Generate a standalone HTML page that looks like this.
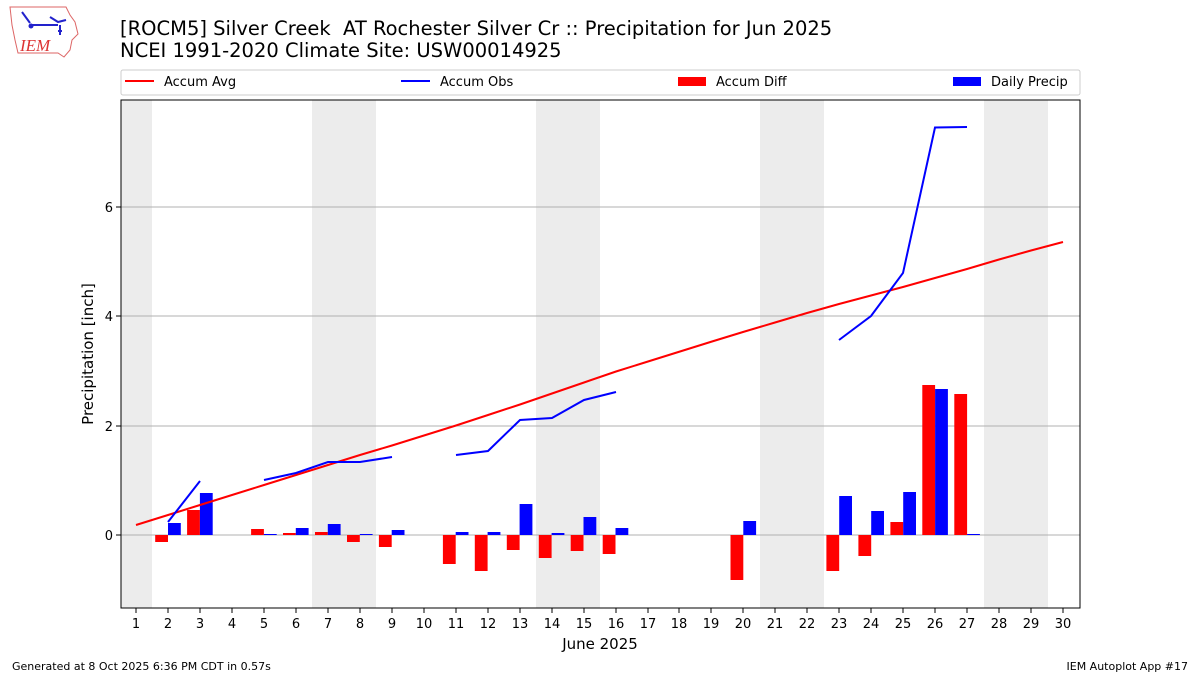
<!DOCTYPE html>
<html><head><meta charset="utf-8"><style>
body{margin:0;background:#fff}
svg{display:block;font-family:"DejaVu Sans","Liberation Sans",sans-serif}
</style></head><body>
<svg width="1200" height="675" viewBox="0 0 1200 675" xmlns="http://www.w3.org/2000/svg">
<rect width="1200" height="675" fill="#fff"/>
<!-- logo -->
<path d="M10 7 L66 7 L70 15 L75 22 L78 34 L72 40 L70 50 L64 57 L58 53 L18 53 L15 40 L12 25 Z" fill="none" stroke="#d66" stroke-width="1"/>
<path d="M22 12 L30 23 M30 25 L58 25 M50 17 L58 22 L66 20 M60 25 L60 35 M58 31 L62 31" stroke="#22c" stroke-width="2" fill="none"/>
<circle cx="31" cy="26" r="2.5" fill="#22c"/>
<text x="20" y="51" font-family="Liberation Serif,serif" font-style="italic" font-size="17" fill="#d33">IEM</text>
<text x="120" y="35" font-size="19.5">[ROCM5] Silver Creek&#160; AT Rochester Silver Cr :: Precipitation for Jun 2025</text>
<text x="120" y="57" font-size="19.5">NCEI 1991-2020 Climate Site: USW00014925</text>
<!-- legend -->
<rect x="121" y="70" width="959" height="25" rx="2" fill="#fff" stroke="#ccc"/>
<line x1="125" y1="81" x2="154" y2="81" stroke="red" stroke-width="2"/>
<text x="164" y="86" font-size="13">Accum Avg</text>
<line x1="401" y1="81" x2="430" y2="81" stroke="blue" stroke-width="2"/>
<text x="440" y="86" font-size="13">Accum Obs</text>
<rect x="678" y="77" width="28" height="9" fill="red"/>
<text x="716" y="86" font-size="13">Accum Diff</text>
<rect x="953" y="77" width="28" height="9" fill="blue"/>
<text x="991" y="86" font-size="13">Daily Precip</text>
<!-- plot area -->
<g fill="#ececec">
<rect x="121" y="100" width="31" height="508"/>
<rect x="312" y="100" width="64" height="508"/>
<rect x="536" y="100" width="64" height="508"/>
<rect x="760" y="100" width="64" height="508"/>
<rect x="984" y="100" width="64" height="508"/>
</g>
<g stroke="#b0b0b0" stroke-width="1">
<line x1="121" y1="535" x2="1080" y2="535"/>
<line x1="121" y1="426" x2="1080" y2="426"/>
<line x1="121" y1="316" x2="1080" y2="316"/>
<line x1="121" y1="207" x2="1080" y2="207"/>
</g>
<g fill="red">
<rect x="155.2" y="535" width="12.8" height="7"/>
<rect x="187.1" y="510" width="12.8" height="25"/>
<rect x="251.1" y="529" width="12.8" height="6"/>
<rect x="283.0" y="533" width="12.8" height="2"/>
<rect x="315.0" y="532" width="12.8" height="3"/>
<rect x="347.0" y="535" width="12.8" height="7"/>
<rect x="378.9" y="535" width="12.8" height="12"/>
<rect x="442.9" y="535" width="12.8" height="29"/>
<rect x="474.8" y="535" width="12.8" height="36"/>
<rect x="506.8" y="535" width="12.8" height="15"/>
<rect x="538.8" y="535" width="12.8" height="23"/>
<rect x="570.7" y="535" width="12.8" height="16"/>
<rect x="602.7" y="535" width="12.8" height="19"/>
<rect x="730.5" y="535" width="12.8" height="45"/>
<rect x="826.4" y="535" width="12.8" height="36"/>
<rect x="858.4" y="535" width="12.8" height="21"/>
<rect x="890.4" y="522" width="12.8" height="13"/>
<rect x="922.3" y="385" width="12.8" height="150"/>
<rect x="954.3" y="394" width="12.8" height="141"/>
</g>
<g fill="blue">
<rect x="168.0" y="523" width="12.8" height="12"/>
<rect x="199.9" y="493" width="12.8" height="42"/>
<rect x="263.9" y="534" width="12.8" height="1"/>
<rect x="295.8" y="528" width="12.8" height="7"/>
<rect x="327.8" y="524" width="12.8" height="11"/>
<rect x="359.8" y="534" width="12.8" height="1"/>
<rect x="391.7" y="530" width="12.8" height="5"/>
<rect x="455.7" y="532" width="12.8" height="3"/>
<rect x="487.6" y="532" width="12.8" height="3"/>
<rect x="519.6" y="504" width="12.8" height="31"/>
<rect x="551.6" y="533" width="12.8" height="2"/>
<rect x="583.5" y="517" width="12.8" height="18"/>
<rect x="615.5" y="528" width="12.8" height="7"/>
<rect x="743.3" y="521" width="12.8" height="14"/>
<rect x="839.2" y="496" width="12.8" height="39"/>
<rect x="871.2" y="511" width="12.8" height="24"/>
<rect x="903.2" y="492" width="12.8" height="43"/>
<rect x="935.1" y="389" width="12.8" height="146"/>
<rect x="967.1" y="534" width="12.8" height="1"/>
</g>
<polyline fill="none" stroke="red" stroke-width="2" points="136,525 168,515 200,505 232,495 264,485 296,475 328,465 360,455 392,445.5 424,435.5 456,425.5 488,415 520,404.5 552,393.5 584,382.5 616,371.5 648,361.5 680,351.5 712,341.5 743,332 775,322.5 807,313 839,304 871,295.5 903,287 935,278 967,269 999,259.5 1031,250.5 1063,242"/>
<g fill="none" stroke="blue" stroke-width="2">
<polyline points="168,522 200,481"/>
<polyline points="264,480 296,473 328,462 360,462 392,457"/>
<polyline points="456,455 488,451 520,420 552,418 584,400 616,392"/>
<polyline points="839,340 871,316 903,273 935,127.5 967,127"/>
</g>
<rect x="121" y="100" width="959" height="508" fill="none" stroke="#000" stroke-width="1"/>
<!-- y ticks -->
<g stroke="#000"><line x1="116" y1="535" x2="121" y2="535"/><line x1="116" y1="426" x2="121" y2="426"/><line x1="116" y1="316" x2="121" y2="316"/><line x1="116" y1="207" x2="121" y2="207"/></g>
<g font-size="13" text-anchor="end">
<text x="113" y="540">0</text><text x="113" y="431">2</text><text x="113" y="321">4</text><text x="113" y="212">6</text>
</g>
<text transform="translate(93,354) rotate(-90)" font-size="15" text-anchor="middle">Precipitation [inch]</text>
<!-- x ticks -->
<g stroke="#000">
<line x1="136" y1="608" x2="136" y2="613"/><line x1="168" y1="608" x2="168" y2="613"/><line x1="200" y1="608" x2="200" y2="613"/><line x1="232" y1="608" x2="232" y2="613"/><line x1="264" y1="608" x2="264" y2="613"/><line x1="296" y1="608" x2="296" y2="613"/><line x1="328" y1="608" x2="328" y2="613"/><line x1="360" y1="608" x2="360" y2="613"/><line x1="392" y1="608" x2="392" y2="613"/><line x1="424" y1="608" x2="424" y2="613"/><line x1="456" y1="608" x2="456" y2="613"/><line x1="488" y1="608" x2="488" y2="613"/><line x1="520" y1="608" x2="520" y2="613"/><line x1="552" y1="608" x2="552" y2="613"/><line x1="584" y1="608" x2="584" y2="613"/><line x1="616" y1="608" x2="616" y2="613"/><line x1="648" y1="608" x2="648" y2="613"/><line x1="679" y1="608" x2="679" y2="613"/><line x1="711" y1="608" x2="711" y2="613"/><line x1="743" y1="608" x2="743" y2="613"/><line x1="775" y1="608" x2="775" y2="613"/><line x1="807" y1="608" x2="807" y2="613"/><line x1="839" y1="608" x2="839" y2="613"/><line x1="871" y1="608" x2="871" y2="613"/><line x1="903" y1="608" x2="903" y2="613"/><line x1="935" y1="608" x2="935" y2="613"/><line x1="967" y1="608" x2="967" y2="613"/><line x1="999" y1="608" x2="999" y2="613"/><line x1="1031" y1="608" x2="1031" y2="613"/><line x1="1063" y1="608" x2="1063" y2="613"/>
</g>
<g font-size="13" text-anchor="middle">
<text x="136" y="628">1</text><text x="168" y="628">2</text><text x="200" y="628">3</text><text x="232" y="628">4</text><text x="264" y="628">5</text><text x="296" y="628">6</text><text x="328" y="628">7</text><text x="360" y="628">8</text><text x="392" y="628">9</text><text x="424" y="628">10</text><text x="456" y="628">11</text><text x="488" y="628">12</text><text x="520" y="628">13</text><text x="552" y="628">14</text><text x="584" y="628">15</text><text x="616" y="628">16</text><text x="648" y="628">17</text><text x="679" y="628">18</text><text x="711" y="628">19</text><text x="743" y="628">20</text><text x="775" y="628">21</text><text x="807" y="628">22</text><text x="839" y="628">23</text><text x="871" y="628">24</text><text x="903" y="628">25</text><text x="935" y="628">26</text><text x="967" y="628">27</text><text x="999" y="628">28</text><text x="1031" y="628">29</text><text x="1063" y="628">30</text>
</g>
<text x="600" y="649" font-size="15" text-anchor="middle">June 2025</text>
<text x="12" y="670" font-size="11">Generated at 8 Oct 2025 6:36 PM CDT in 0.57s</text>
<text x="1188" y="670" font-size="11" text-anchor="end">IEM Autoplot App #17</text>
</svg>
</body></html>
